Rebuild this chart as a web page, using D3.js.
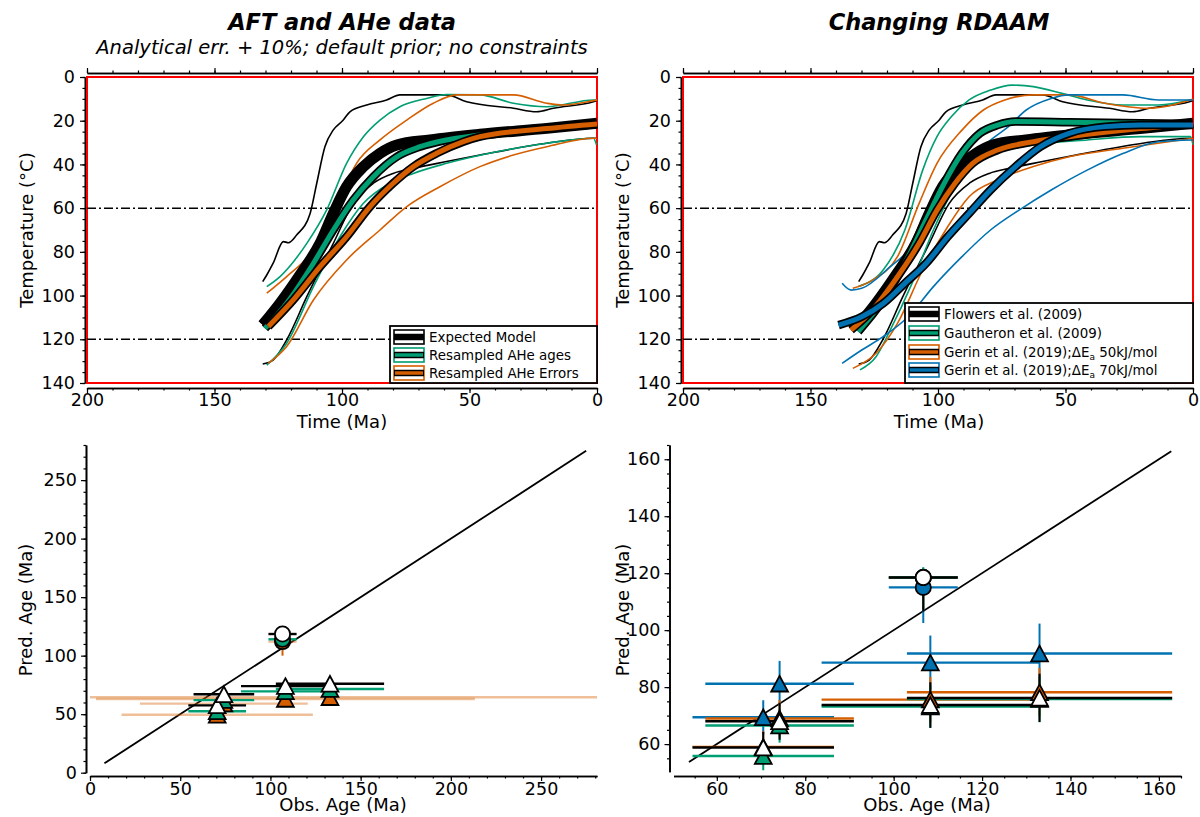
<!DOCTYPE html>
<html>
<head>
<meta charset="utf-8">
<script src="https://cdn.jsdelivr.net/npm/d3@7"></script>
<style>
  body { margin: 0; background: #fff; }
  svg { font-family: "DejaVu Sans", Verdana, sans-serif; }
</style>
</head>
<body>
<svg id="fig" width="1200" height="817"></svg>
<script>
// ---- time-temperature paths, [time Ma, temperature C] ----
// expected model / Flowers et al. (2009)
var expMid = [[131.1,113.4],[124.3,103.5],[116.5,90.6],[108.6,76.1],[103.4,62.4],[98.2,50.2],[91.6,41],[85.1,34.9],[78.5,31.1],[65.5,28.8],[45.9,26.2],[19.7,23.5],[0,21.2]];
var expHi = [[131.1,93.6],[129.5,90.6],[127,85.2],[123,75.3],[121,75.8],[117.8,72.3],[112.5,62.4],[109.9,48.6],[106.7,31.9],[103.4,24.2],[99.5,19.7],[96.9,15.9],[90.3,12.8],[82.5,10.5],[77.3,8.2],[59,8.2],[51.1,11.3],[32.8,14.3],[23.7,15.9],[17.1,14.3],[1.4,11.3],[0,10.8]];
var expLo = [[131.1,131.3],[127,129.5],[121.7,120.3],[113.8,100.5],[103.4,76.1],[95.6,57.8],[87.7,48.6],[79.9,44.1],[72,41.8],[59,38.7],[45.9,35.7],[19.7,30.3],[1.4,28],[0,28]];
// resampled AHe ages
var ageMid = [[130.2,115],[121.7,103.5],[111.2,85.2],[103.4,70],[95.6,56.3],[87.7,45.6],[78.5,36.5],[69.4,31.9],[59,28.8],[45.9,26.5],[19.7,23.6],[0,21.5]];
var ageHi = [[129.5,95.9],[124.3,91.3],[113.8,76.1],[106,60.8],[98.2,39.5],[91.6,27.3],[85.1,19.7],[77.3,13.6],[66.8,9.8],[59,8],[45.9,8.2],[32.8,12],[19.7,13.6],[1.4,10.5],[0,10.5]];
var ageLo = [[129.5,131.8],[121.7,121.8],[111.2,95.9],[100.8,73.1],[91.6,57.8],[81.2,48.6],[72,44.1],[59,39.5],[39.3,34.2],[19.7,30.3],[1.4,28],[0.2,31]];
// resampled AHe errors
var errMid = [[128.9,114.2],[119.1,102],[108.6,86.8],[98.2,73.1],[89,59.3],[79.9,48.6],[72,41],[62.9,34.9],[52.4,29.6],[45.9,27.3],[19.7,23.6],[0,21.5]];
var errHi = [[129.5,98.9],[121.7,91.3],[111.2,79.1],[100.8,54.7],[94.3,39.5],[85.1,28.8],[74.6,19.7],[64.2,12],[55,8.2],[32.8,8.2],[19.7,12],[13.2,12.8],[1.4,10.8],[0,10.5]];
var errLo = [[128.9,131],[121.7,123.3],[111.2,102],[98.2,83.7],[85.1,70],[74.6,59.3],[61.6,50.2],[45.9,41],[32.8,35.7],[19.7,31.9],[1.4,28],[0,28]];
// Gautheron et al. (2009)
var gauMid = [[131.3,116.5],[121.5,102],[111.7,82.2],[104.7,65.4],[97.6,48.7],[90.6,34.9],[83.6,25.8],[76.6,22],[69.6,20.4],[48.6,20.7],[20.5,21.2],[0,21.5]];
var gauHi = [[131.3,95.9],[121.5,88.3],[113,70],[106,42.6],[100.4,27.3],[94.8,18.2],[87.8,10.5],[79.4,6],[71,3.7],[62.6,4.4],[51.4,7.5],[41.5,10.5],[27.5,12.8],[13.5,12.8],[0,10.2]];
var gauLo = [[130.6,134],[124.3,128],[118.7,115.7],[110.2,94.4],[101.8,70],[93.4,50.2],[85,38],[76.6,34.2],[62.6,31.1],[41.5,28.8],[20.5,27.3],[1,27.3],[0,31]];
// Gerin et al. (2019), dEa 50 kJ/mol
var g50Mid = [[134.1,115.8],[125.7,106.6],[115.9,91.4],[107.4,76.1],[100.4,60.9],[93.4,48.7],[86.4,39.5],[76.6,33.4],[62.6,29.6],[48.6,27.3],[20.5,23.6],[0,21.5]];
var g50Hi = [[133.4,96.7],[125.7,92.9],[115.9,82.2],[107.4,57.8],[100.4,39.5],[90.6,24.3],[82.2,15.1],[73.8,10.5],[62.6,8.2],[48.6,8.2],[34.5,12],[17.7,14.3],[0,10.2]];
var g50Lo = [[133.4,133.3],[124.3,126.4],[115.9,112.7],[106,88.3],[96.2,68.5],[87.8,54.8],[76.6,47.1],[62.6,41],[48.6,36.5],[27.5,32.6],[0,28]];
// Gerin et al. (2019), dEa 70 kJ/mol
var g70Mid = [[139,113.5],[129.9,109.7],[121.5,103.6],[113,94.4],[104.7,85.3],[96.2,73.1],[87.8,62.4],[79.4,51.7],[69.6,41],[59.8,31.9],[48.6,25.8],[34.5,22.7],[20.5,22],[0,22]];
var g70Hi = [[137.6,94.4],[134.1,97.5],[129.9,96.7],[118.7,86.8],[108.8,76.1],[100.4,60.9],[90.6,45.6],[82.2,31.9],[72.4,22.7],[65.4,15.1],[55.6,9.8],[48.6,8.2],[27.5,8.2],[13.5,10.5],[0,10.5]];
var g70Lo = [[137.6,131],[129.9,124.9],[121.5,118.8],[111.7,109.7],[101.8,95.9],[90.6,82.2],[79.4,70],[68.2,60.9],[55.6,51.7],[41.5,42.6],[27.5,35],[13.5,29.6],[0,28.8]];

// ---- observed ages ----
var aftObs = 106.7, aftObsErr = 7.8;
var aheObs = [70.5, 74.2, 108.3, 133];
var aheObsErr = [16, 16.8, 24.6, 30];
var aheErrResampled = [53, 46.5, 105, 150]; // resampled AHe errors

// ---- predicted ages, left panel: [pred, err below, err above] ----
var expAft = [118.5, 8, 3], expAhe = [57.5, 67, 74, 76];
var ageAft = [114, 8, 4], ageAhe = [52.5, 62, 69.5, 71.5];
var errAft = [112, 12, 4], errAhe = [49.5, 59, 63, 64.5];

// ---- predicted ages, right panel ----
var flAft = [118.5, 12, 3], flAhe = [58.8, 68, 73.7, 76.2], flErr = [5.5, 6.5, 8, 8.5];
var gaAft = [118.5, 11, 3.5], gaAhe = [55.8, 66.5, 73.2, 75.8], gaErr = [5, 6, 7.5, 8];
var g5Aft = [118.5, 11, 3], g5Ahe = [59, 69, 75.6, 78.2], g5Err = [5.5, 6.5, 8, 8.5];
var g7Aft = [115, 12.5, 7], g7Ahe = [69.4, 81.2, 88.6, 91.8], g7Err = [6, 8, 9.5, 10.5];

var tempTicks = [0, 20, 40, 60, 80, 100, 120, 140];
var timeTicks = [200, 150, 100, 50, 0];
var leftAgeTicks = [0, 50, 100, 150, 200, 250];
var rightAgeTicks = [60, 80, 100, 120, 140, 160];

var col = {black: '#000000', green: '#009E73', orange: '#D55E00', blue: '#0072B2'};
var font = '"DejaVu Sans", Verdana, sans-serif';
var svg = d3.select('#fig');

// draws an axis with minor ticks (no labels) and labelled major ticks
function drawAxis(g, gen, scale, major, minor, pad) {
  g.append('g').call(gen(scale).tickValues(minor).tickSize(2.5).tickSizeOuter(0).tickFormat(''));
  g.append('g').call(gen(scale).tickValues(major).tickSize(5).tickSizeOuter(0).tickPadding(pad));
  g.selectAll('g').attr('font-family', font).attr('font-size', 17.5);
  g.selectAll('.domain').attr('stroke', '#000').attr('stroke-width', 1.6);
  g.selectAll('.tick line').attr('stroke', '#000').attr('stroke-width', 1.2);
  g.selectAll('.tick text').attr('fill', '#000');
}

function range(a, b, s) { return d3.range(a, b + s / 2, s); }

function text(x, y, s, size, opts) {
  var t = svg.append('text').attr('x', x).attr('y', y).text(s)
    .attr('font-size', size).attr('text-anchor', 'middle').attr('fill', '#000');
  opts = opts || {};
  if (opts.weight) t.attr('font-weight', opts.weight);
  if (opts.style) t.attr('font-style', opts.style);
  if (opts.rotate) t.attr('transform', 'rotate(-90,' + x + ',' + y + ')');
  return t;
}

// ---- temperature-time panel ----
function tempPanel(x0, thin, thick, legend) {
  var x = d3.scaleLinear([200, 0], [x0, x0 + 510]);
  var y = d3.scaleLinear([0, 140], [77, 383]);
  var g = svg.append('g');
  drawAxis(g.append('g').attr('transform', 'translate(0,73)'), d3.axisTop, x, timeTicks, range(0, 200, 10), 3);
  g.selectAll('.tick text').remove();
  drawAxis(g.append('g').attr('transform', 'translate(0,388)'), d3.axisBottom, x, timeTicks, range(0, 200, 10), 1);
  drawAxis(g.append('g').attr('transform', 'translate(' + (x0 - 2) + ',0)'), d3.axisLeft, y, tempTicks, range(0, 140, 5), 5);

  g.append('rect').attr('x', x0).attr('y', 77).attr('width', 510).attr('height', 306)
    .attr('fill', 'none').attr('stroke', '#ff0000').attr('stroke-width', 2);
  [60, 120].forEach(function(T) {
    g.append('line').attr('x1', x0).attr('x2', x0 + 510).attr('y1', y(T)).attr('y2', y(T))
      .attr('stroke', '#000').attr('stroke-width', 1.5).attr('stroke-dasharray', '9,3,2,3');
  });

  var line = d3.line().x(function(d) { return x(d[0]); }).y(function(d) { return y(d[1]); })
    .curve(d3.curveMonotoneX);
  thin.forEach(function(c) {
    g.append('path').attr('d', line(c.data)).attr('fill', 'none')
      .attr('stroke', c.color).attr('stroke-width', 1.6);
  });
  thick.forEach(function(c) {
    g.append('path').attr('d', line(c.data)).attr('fill', 'none')
      .attr('stroke', '#000').attr('stroke-width', c.w + 3.5);
    g.append('path').attr('d', line(c.data)).attr('fill', 'none')
      .attr('stroke', c.color).attr('stroke-width', c.w);
  });

  // legend
  var lg = g.append('g');
  lg.append('rect').attr('x', legend.x).attr('y', legend.y).attr('width', x0 + 510 - legend.x)
    .attr('height', 383 - legend.y).attr('fill', '#fff').attr('stroke', '#000').attr('stroke-width', 1.8);
  legend.items.forEach(function(it, i) {
    var cy = legend.rows[i], sx = legend.x + 4;
    lg.append('rect').attr('x', sx).attr('y', cy - 7).attr('width', 30).attr('height', 14)
      .attr('fill', '#fff').attr('stroke', it.color).attr('stroke-width', 1.6);
    lg.append('line').attr('x1', sx).attr('x2', sx + 30).attr('y1', cy).attr('y2', cy)
      .attr('stroke', '#000').attr('stroke-width', 6.5);
    lg.append('line').attr('x1', sx + 1).attr('x2', sx + 29).attr('y1', cy).attr('y2', cy)
      .attr('stroke', it.color).attr('stroke-width', 3.5);
    var t = lg.append('text').attr('x', sx + 35).attr('y', cy).attr('dy', '0.36em')
      .attr('font-size', 13.4).attr('fill', '#000');
    t.append('tspan').text(it.label);
    if (it.sub) {
      t.append('tspan').text(it.sub).attr('font-size', 9).attr('dy', 3);
      t.append('tspan').text(it.after).attr('dy', -3);
    }
  });
}

tempPanel(87,
  [{data: expHi, color: col.black}, {data: expLo, color: col.black},
   {data: ageHi, color: col.green}, {data: ageLo, color: col.green},
   {data: errHi, color: col.orange}, {data: errLo, color: col.orange}],
  [{data: expMid, color: col.black, w: 7.5},
   {data: ageMid, color: col.green, w: 5},
   {data: errMid, color: col.orange, w: 5}],
  {x: 390, y: 326, rows: [337, 355, 373], items: [
    {label: 'Expected Model', color: col.black},
    {label: 'Resampled AHe ages', color: col.green},
    {label: 'Resampled AHe Errors', color: col.orange}]});

tempPanel(683,
  [{data: expHi, color: col.black}, {data: expLo, color: col.black},
   {data: gauHi, color: col.green}, {data: gauLo, color: col.green},
   {data: g50Hi, color: col.orange}, {data: g50Lo, color: col.orange},
   {data: g70Hi, color: col.blue}, {data: g70Lo, color: col.blue}],
  [{data: expMid, color: col.black, w: 7.5},
   {data: gauMid, color: col.green, w: 5},
   {data: g50Mid, color: col.orange, w: 5},
   {data: g70Mid, color: col.blue, w: 5}],
  {x: 905, y: 303, rows: [314, 333, 352, 370], items: [
    {label: 'Flowers et al. (2009)', color: col.black},
    {label: 'Gautheron et al. (2009)', color: col.green},
    {label: 'Gerin et al. (2019);\u0394E', sub: 'a', after: ' 50kJ/mol', color: col.orange},
    {label: 'Gerin et al. (2019);\u0394E', sub: 'a', after: ' 70kJ/mol', color: col.blue}]});

// ---- predicted vs observed panels ----
function triPath(cx, cy) {
  return 'M' + cx + ',' + (cy - 7.8) + 'L' + (cx + 8.4) + ',' + (cy + 7.8) + 'L' + (cx - 8.4) + ',' + (cy + 7.8) + 'Z';
}

function agePanel(x, y, xTicks, xMinor, yTicks, yMinor, oneToOne, series) {
  var g = svg.append('g');
  drawAxis(g.append('g').attr('transform', 'translate(0,776)'), d3.axisBottom, x, xTicks, xMinor, 2);
  drawAxis(g.append('g').attr('transform', 'translate(' + (x.range()[0] - 4) + ',0)'), d3.axisLeft, y, yTicks, yMinor, 4);
  var dx = x.domain();
  var cl = function(v) { return Math.max(dx[0], Math.min(dx[1], v)); };

  g.append('line').attr('x1', x(oneToOne[0])).attr('y1', y(oneToOne[0]))
    .attr('x2', x(oneToOne[1])).attr('y2', y(oneToOne[1]))
    .attr('stroke', '#000').attr('stroke-width', 1.8);

  // error bars
  series.forEach(function(s) {
    var pts = [{o: aftObs, e: aftObsErr, p: s.aft[0], lo: s.aft[1], hi: s.aft[2]}].concat(s.ahe.map(function(p, i) {
      return {o: aheObs[i], e: s.obsErr[i], p: p, lo: s.err[i], hi: s.err[i]};
    }));
    pts.forEach(function(d) {
      g.append('line').attr('x1', x(cl(d.o - d.e))).attr('x2', x(cl(d.o + d.e)))
        .attr('y1', y(d.p)).attr('y2', y(d.p))
        .attr('stroke', s.bar).attr('stroke-opacity', s.barOpacity || 1).attr('stroke-width', 2.4);
      g.append('line').attr('x1', x(d.o)).attr('x2', x(d.o))
        .attr('y1', y(d.p - d.lo)).attr('y2', y(d.p + d.hi))
        .attr('stroke', s.bar).attr('stroke-width', 2);
    });
  });
  // markers
  series.forEach(function(s) {
    g.append('circle').attr('cx', x(aftObs)).attr('cy', y(s.aft[0])).attr('r', 7.6)
      .attr('fill', s.fill).attr('stroke', '#000').attr('stroke-width', 1.8);
    s.ahe.forEach(function(p, i) {
      g.append('path').attr('d', triPath(x(aheObs[i]), y(p)))
        .attr('fill', s.fill).attr('stroke', '#000').attr('stroke-width', 1.8).attr('stroke-linejoin', 'miter');
    });
  });
}

agePanel(d3.scaleLinear([0, 281], [90, 597]), d3.scaleLinear([0, 280], [772.7, 445]),
  leftAgeTicks, range(0, 280, 10), leftAgeTicks, range(0, 280, 10), [8, 275],
  [{ahe: errAhe, aft: errAft, fill: col.orange, bar: col.orange, barOpacity: 0.4,
    obsErr: aheErrResampled, err: [4, 4, 4, 4]},
   {ahe: ageAhe, aft: ageAft, fill: col.green, bar: col.green,
    obsErr: aheObsErr, err: [4, 4, 4, 4]},
   {ahe: expAhe, aft: expAft, fill: '#fff', bar: '#000',
    obsErr: aheObsErr, err: [4, 4, 4, 4]}]);

agePanel(d3.scaleLinear([50.2, 165], [673.5, 1181]), d3.scaleLinear([50.3, 165], [771.7, 445]),
  rightAgeTicks, range(55, 165, 5), rightAgeTicks, range(55, 165, 5), [53.7, 162.8],
  [{ahe: g7Ahe, aft: g7Aft, fill: col.blue, bar: col.blue, obsErr: aheObsErr, err: g7Err},
   {ahe: g5Ahe, aft: g5Aft, fill: col.orange, bar: col.orange, obsErr: aheObsErr, err: g5Err},
   {ahe: gaAhe, aft: gaAft, fill: col.green, bar: col.green, obsErr: aheObsErr, err: gaErr},
   {ahe: flAhe, aft: flAft, fill: '#fff', bar: '#000', obsErr: aheObsErr, err: flErr}]);

// ---- titles and axis labels ----
text(342, 30, 'AFT and AHe data', 22.5, {weight: 'bold', style: 'italic'});
text(342, 54, 'Analytical err. + 10%; default prior; no constraints', 19.5, {style: 'italic'});
text(939, 30, 'Changing RDAAM', 22.5, {weight: 'bold', style: 'italic'});
text(342, 428, 'Time (Ma)', 18);
text(939, 428, 'Time (Ma)', 18);
text(33, 230, 'Temperature (\u00B0C)', 18, {rotate: true});
text(629, 230, 'Temperature (\u00B0C)', 18, {rotate: true});
text(343, 811, 'Obs. Age (Ma)', 18);
text(927, 811, 'Obs. Age (Ma)', 18);
text(32, 610, 'Pred. Age (Ma)', 18, {rotate: true});
text(629, 610, 'Pred. Age (Ma)', 18, {rotate: true});
</script>
</body>
</html>
